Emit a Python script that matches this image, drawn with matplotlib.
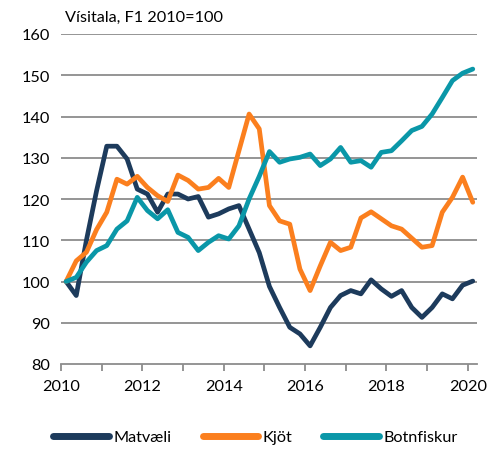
import numpy as np
import matplotlib
matplotlib.use('Agg')
import matplotlib.pyplot as plt

plt.rcParams['font.family'] = ['Lato', 'DejaVu Sans']

# quarterly index, Q1 2010 = 100 (2010Q1 .. 2020Q1)
matvaeli = [100, 96.6, 110, 122, 132.8, 132.8, 129.7, 122.4, 121.2, 116.8,
            121.2, 121.2, 120.0, 120.6, 115.6, 116.4, 117.6, 118.4, 112.7, 107.0,
            98.8, 93.7, 88.9, 87.3, 84.4, 88.9, 93.7, 96.6, 97.8, 97.0,
            100.4, 98.2, 96.4, 97.8, 93.7, 91.3, 93.7, 97.0, 95.8, 99.1, 100.1]
kjot = [100, 105.0, 107.1, 112.6, 116.8, 124.8, 123.6, 125.5, 122.8, 120.8,
        119.4, 125.8, 124.5, 122.4, 122.8, 125.0, 122.8, 131.7, 140.6, 137.0,
        118.4, 114.7, 113.9, 103.0, 97.8, 103.8, 109.5, 107.5, 108.3, 115.4,
        116.9, 115.2, 113.5, 112.7, 110.5, 108.3, 108.7, 116.8, 120.4, 125.3, 119.2]
botnfiskur = [100, 101.0, 104.7, 107.5, 108.7, 112.7, 114.7, 120.4, 117.2, 115.2,
              117.4, 111.9, 110.7, 107.5, 109.5, 111.1, 110.3, 113.5, 120.0, 125.5,
              131.5, 128.9, 129.7, 130.1, 130.9, 128.1, 129.7, 132.5, 128.9, 129.3,
              127.7, 131.3, 131.7, 134.1, 136.6, 137.6, 140.6, 144.6, 148.7, 150.5, 151.5]

t = 2010 + 0.125 + 0.25 * np.arange(len(matvaeli))

c_mat = '#1d3b5c'
c_kjot = '#fb7f1e'
c_botn = '#0a97a8'
grid_c = '#8c8c8c'

fig = plt.figure(figsize=(5.03, 4.52), dpi=100)
ax = fig.add_axes([61 / 503, 1 - 365 / 452, 416 / 503, 330 / 452])

lw = 3.4
ax.plot(t, matvaeli, color=c_mat, lw=lw, label='Matvæli', solid_joinstyle='round', solid_capstyle='round')
ax.plot(t, kjot, color=c_kjot, lw=lw, label='Kjöt', solid_joinstyle='round', solid_capstyle='round')
ax.plot(t, botnfiskur, color=c_botn, lw=lw, label='Botnfiskur', solid_joinstyle='round', solid_capstyle='round')

ax.set_ylim(80, 160)
ax.set_xlim(2010, 2010 + 416 / 40.67)
ax.set_yticks(range(80, 161, 10))
ax.set_xticks(range(2010, 2021))
ax.set_xticklabels([str(y) if y % 2 == 0 else '' for y in range(2010, 2021)])

for v in range(90, 161, 10):
    ax.axhline(v, color=grid_c, lw=1.3, zorder=0)

for s in ['top', 'right', 'left']:
    ax.spines[s].set_visible(False)
ax.spines['bottom'].set_color(grid_c)
ax.spines['bottom'].set_linewidth(1.3)
ax.tick_params(axis='y', length=0, pad=8, labelsize=11.7)
ax.tick_params(axis='x', length=5, width=1.3, color=grid_c, pad=6, labelsize=11.7)

fig.text(65 / 503, 1 - 18 / 452, 'Vísitala, F1 2010=100', fontsize=11.7, va='center', ha='left')

leg = fig.legend(loc='center', bbox_to_anchor=(0.508, 1 - 438 / 452), ncol=3, frameon=False,
                 fontsize=11.7, handlelength=3.4, columnspacing=1.9, handletextpad=0.3)
for h in leg.get_lines():
    h.set_linewidth(5)
    h.set_solid_capstyle('round')

fig.savefig('out.png', dpi=100)
